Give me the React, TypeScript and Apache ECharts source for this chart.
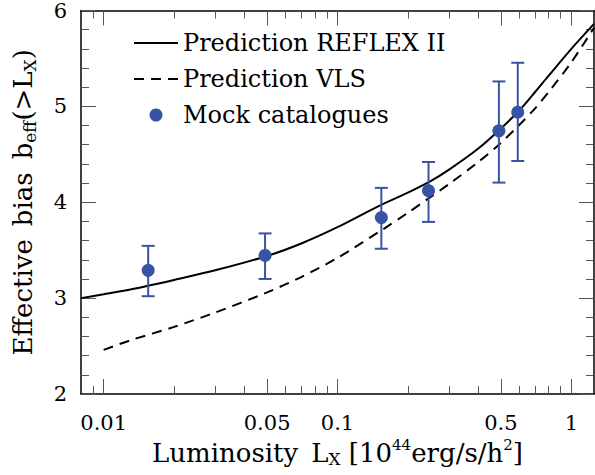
import React, { useEffect, useRef } from 'react';
import * as echarts from 'echarts';

// ---- data ----
const xMajorTicks = [0.01, 0.05, 0.1, 0.5, 1];
const xTickLabels = ['0.01', '0.05', '0.1', '0.5', '1'];
const xMinorTicks = [0.009, 0.02, 0.03, 0.04, 0.06, 0.07, 0.08, 0.09, 0.2, 0.3, 0.4, 0.6, 0.7, 0.8, 0.9];
const X_MIN = 0.008;
const X_MAX = 1.25;
const Y_MIN = 2;
const Y_MAX = 6;

const reflexL = [0.008, 0.01, 0.013, 0.02, 0.03, 0.05, 0.07, 0.1, 0.15, 0.2, 0.25, 0.3, 0.4, 0.5, 0.6, 0.7, 0.8, 1.0, 1.25];
const reflexB = [3.0, 3.04, 3.09, 3.19, 3.29, 3.44, 3.57, 3.74, 3.96, 4.1, 4.22, 4.34, 4.56, 4.77, 4.96, 5.15, 5.32, 5.6, 5.86];

const vlsL = [0.01, 0.013, 0.02, 0.03, 0.05, 0.07, 0.1, 0.157, 0.2, 0.245, 0.3, 0.4, 0.49, 0.59, 0.7, 0.8, 1.0, 1.25];
const vlsB = [2.46, 2.56, 2.7, 2.85, 3.06, 3.22, 3.42, 3.72, 3.89, 4.04, 4.19, 4.42, 4.6, 4.79, 4.98, 5.15, 5.46, 5.82];

const mockL = [0.0155, 0.049, 0.154, 0.245, 0.49, 0.59];
const mockB = [3.29, 3.445, 3.84, 4.12, 4.745, 4.94];
const mockLow = [3.02, 3.2, 3.515, 3.795, 4.205, 4.43];
const mockHigh = [3.545, 3.675, 4.15, 4.42, 5.26, 5.455];

const seriesNames = ['Prediction REFLEX II', 'Prediction VLS', 'Mock catalogues'];

const FONT = 'DejaVu Serif';
const BLUE = '#3953a4';
const TICK = '#555';

const lg = (v: number) => Math.log10(v);

export default function App() {
  const ref = useRef<HTMLDivElement>(null);

  useEffect(() => {
    if (!ref.current) return;
    const chart = echarts.init(ref.current, undefined, { renderer: 'svg' });

    const rich = {
      n: { fontFamily: FONT, fontSize: 26, lineHeight: 30, color: '#000' },
      s: { fontFamily: FONT, fontSize: 17, lineHeight: 14, verticalAlign: 'bottom', color: '#000' },
      p: { fontFamily: FONT, fontSize: 15, lineHeight: 22, verticalAlign: 'top', color: '#000' },
    };

    const baseX: any = {
      type: 'value',
      min: lg(X_MIN),
      max: lg(X_MAX),
      splitLine: { show: false },
      axisPointer: { show: false },
    };
    const majorTick = {
      show: true,
      inside: true,
      length: 15,
      customValues: xMajorTicks.map(lg),
      lineStyle: { color: TICK, width: 1 },
    };
    const minorTick = {
      show: true,
      inside: true,
      length: 8,
      customValues: xMinorTicks.map(lg),
      lineStyle: { color: TICK, width: 1 },
    };
    const frameLine = { show: true, onZero: false, lineStyle: { color: '#000', width: 1.5 } };

    const labelFor = (v: number) => {
      for (let i = 0; i < xMajorTicks.length; i++) {
        if (Math.abs(lg(xMajorTicks[i]) - v) < 1e-6) return xTickLabels[i];
      }
      return '';
    };

    const baseY: any = {
      type: 'value',
      min: Y_MIN,
      max: Y_MAX,
      interval: 1,
      splitLine: { show: false },
      minorSplitLine: { show: false },
      axisLine: frameLine,
      axisTick: { show: true, inside: true, length: 15, lineStyle: { color: TICK, width: 1 } },
      minorTick: { show: true, splitNumber: 5, length: 8, lineStyle: { color: TICK, width: 1 } },
    };

    chart.setOption({
      animation: false,
      grid: { left: 81, right: 1, top: 9, bottom: 81, containLabel: false },
      legend: {
        left: 133,
        top: 31,
        padding: 0,
        orient: 'vertical',
        itemWidth: 44,
        itemHeight: 13,
        itemGap: 12,
        selectedMode: false,
        data: [
          { name: seriesNames[0], itemStyle: { opacity: 0 } },
          { name: seriesNames[1], itemStyle: { opacity: 0 } },
          { name: seriesNames[2] },
        ],
        textStyle: { fontFamily: FONT, fontSize: 24, lineHeight: 24, color: '#000' },
      },
      xAxis: [
        {
          ...baseX,
          position: 'bottom',
          axisLine: frameLine,
          axisTick: majorTick,
          axisLabel: {
            show: true,
            customValues: xMajorTicks.map(lg),
            formatter: (v: number) => labelFor(v),
            margin: 18,
            fontFamily: FONT,
            fontSize: 21,
            color: '#000',
          },
          name: '{n|Luminosity\u2002L}{s|X}{n| [10}{p|44}{n|erg/s/h}{p|2}{n|]}',
          nameLocation: 'middle',
          nameGap: 39,
          nameTextStyle: { fontFamily: FONT, fontSize: 26, color: '#000', rich },
        },
        { ...baseX, position: 'bottom', axisLine: { show: false }, axisTick: minorTick, axisLabel: { show: false } },
        { ...baseX, position: 'top', axisLine: frameLine, axisTick: majorTick, axisLabel: { show: false } },
        { ...baseX, position: 'top', axisLine: { show: false }, axisTick: minorTick, axisLabel: { show: false } },
      ],
      yAxis: [
        {
          ...baseY,
          position: 'left',
          axisLabel: { show: true, margin: 14, fontFamily: FONT, fontSize: 21, color: '#000' },
          name: '{n|Effective\u2002bias\u2002b}{s|eff}{n|(>L}{s|X}{n|)}',
          nameLocation: 'middle',
          nameGap: 43,
          nameTextStyle: { fontFamily: FONT, fontSize: 26, color: '#000', rich },
        },
        { ...baseY, position: 'right', axisLabel: { show: false } },
      ],
      series: [
        {
          name: seriesNames[0],
          type: 'line',
          xAxisIndex: 0,
          yAxisIndex: 0,
          data: reflexL.map((l, i) => [lg(l), reflexB[i]]),
          symbol: 'none',
          smooth: 0.3,
          lineStyle: { color: '#000', width: 2, type: 'solid' },
          itemStyle: { color: '#000' },
          z: 2,
        },
        {
          name: seriesNames[1],
          type: 'line',
          xAxisIndex: 0,
          yAxisIndex: 0,
          data: vlsL.map((l, i) => [lg(l), vlsB[i]]),
          symbol: 'none',
          smooth: 0.3,
          lineStyle: { color: '#000', width: 2, type: [10, 7] },
          itemStyle: { color: '#000' },
          z: 2,
        },
        {
          name: 'errors',
          type: 'custom',
          xAxisIndex: 0,
          yAxisIndex: 0,
          silent: true,
          data: mockL.map((l, i) => [lg(l), mockLow[i], mockHigh[i]]),
          renderItem: (_params: any, api: any) => {
            const x = api.value(0);
            const lo = api.coord([x, api.value(1)]);
            const hi = api.coord([x, api.value(2)]);
            const hw = 6.5;
            const style = { stroke: BLUE, lineWidth: 2, fill: 'none' };
            return {
              type: 'group',
              children: [
                { type: 'line', shape: { x1: lo[0], y1: lo[1], x2: hi[0], y2: hi[1] }, style },
                { type: 'line', shape: { x1: lo[0] - hw, y1: lo[1], x2: lo[0] + hw, y2: lo[1] }, style },
                { type: 'line', shape: { x1: hi[0] - hw, y1: hi[1], x2: hi[0] + hw, y2: hi[1] }, style },
              ],
            };
          },
          z: 3,
        },
        {
          name: seriesNames[2],
          type: 'scatter',
          xAxisIndex: 0,
          yAxisIndex: 0,
          data: mockL.map((l, i) => [lg(l), mockB[i]]),
          symbol: 'circle',
          symbolSize: 13,
          itemStyle: { color: BLUE, opacity: 1 },
          z: 4,
        },
      ],
    });

    return () => chart.dispose();
  }, []);

  return (
    <div
      ref={ref}
      style={{ position: 'absolute', left: 0, top: 0, width: 595, height: 475, background: '#fff' }}
    />
  );
}
